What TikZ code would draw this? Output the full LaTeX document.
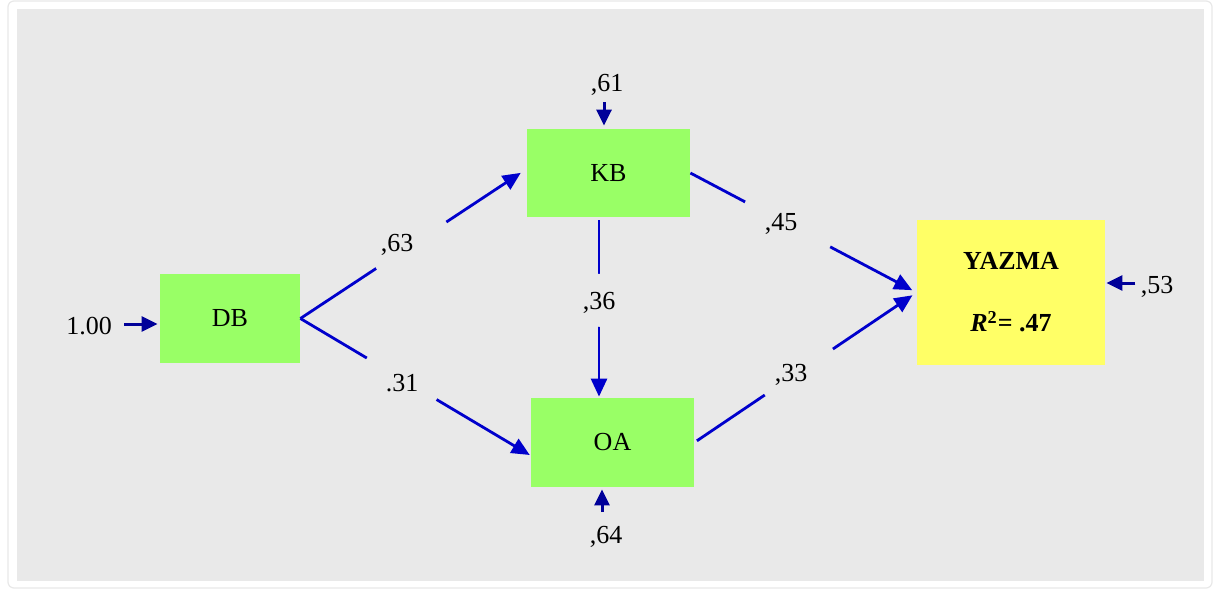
\documentclass[tikz,border=0pt]{standalone}
\usepackage{fontspec}
\setmainfont{Liberation Serif}
\usetikzlibrary{arrows.meta,calc}
\definecolor{bgpanel}{HTML}{E9E9E9}
\definecolor{boxgreen}{HTML}{99FF66}
\definecolor{boxyellow}{HTML}{FFFF66}
\definecolor{linkblue}{HTML}{0000CC}
\definecolor{errblue}{HTML}{000099}
\begin{document}
\begin{tikzpicture}[x=0.5pt,y=-0.5pt,
  every node/.style={font=\fontsize{13pt}{15.6pt}\selectfont, text=black},
  varbox/.style={fill=boxgreen, inner sep=0pt},
  endobox/.style={fill=boxyellow, inner sep=0pt, align=center, font=\fontsize{13pt}{15.6pt}\selectfont\bfseries},
  link/.style={draw=linkblue, line width=1.4pt, -{Triangle[length=9pt,width=8pt]}},
  errarrow/.style={draw=errblue, line width=1.5pt, -{Triangle[length=8pt,width=7.5pt]}},
  gapc/.style={circle, fill=bgpanel, inner sep=0pt},
  lbl/.style={inner sep=0pt}]
% frame and panel
\useasboundingbox (0,0) rectangle (1213,589);
\fill[white] (0,0) rectangle (1213,589);
\draw[black!9, line width=0.6pt, fill=white, rounded corners=3pt] (8,1) rectangle (1212,588);
\fill[bgpanel] (17,9) rectangle (1204,581);
% variables
\node[varbox, minimum width=70pt, minimum height=44.5pt] (DB) at (230,318.5) {DB};
\node[varbox, minimum width=81.5pt, minimum height=44pt] (KB) at (608.5,173) {KB};
\node[varbox, minimum width=81.5pt, minimum height=44.5pt] (OA) at (612.5,442.5) {OA};
\node[endobox, minimum width=94pt, minimum height=72.5pt] (YAZMA) at (1011,292.5)
  {YAZMA\\[15.4pt]\textit{R}\textsuperscript{2}= .47};
% paths with gaps for coefficients
\draw[link, shorten >=3.5pt] (DB.east) -- node[gapc, minimum size=42pt, pos=0.49]{} ($(KB.west)+(0,-4)$);
\draw[link, shorten >=0.5pt] (DB.east) -- node[gapc, minimum size=40.5pt, pos=0.44]{} ($(OA.west)+(0,13)$);
\draw[link, shorten >=2.5pt] (KB.east) -- node[gapc, minimum size=48pt, pos=0.43]{} (YAZMA.west);
\draw[link, shorten <=1.5pt, shorten >=2.5pt] (OA.east) -- node[gapc, minimum size=41pt, pos=0.47]{} (YAZMA.west);
\draw[link, shorten <=1.5pt, shorten >=0.5pt] ($(KB.south)+(-9.5,0)$) -- node[gapc, minimum size=26.5pt, pos=0.46]{} ($(OA.north)+(-13.5,0)$);
% coefficient labels
\node[lbl] (c63) at (397,245) {,63};
\node[lbl] (c31) at (402,383) {.31};
\node[lbl] (c45) at (781,224) {,45};
\node[lbl] (c33) at (791,375) {,33};
\node[lbl] (c36) at (599,303) {,36};
% error / input labels
\node[lbl] (l100) at (89,326) {1.00};
\node[lbl] (l61) at (607,85) {,61};
\node[lbl] (l64) at (606,537) {,64};
\node[lbl] (l53) at (1157,287) {,53};
\draw[errarrow, shorten <=6pt, shorten >=1pt] ([yshift=1pt]l100.east) -- ([yshift=1pt]l100.east -| DB.west);
\draw[errarrow, shorten <=3pt, shorten >=1.5pt] ([xshift=-1.5pt]l61.south) -- ([xshift=-1.5pt]l61.south |- KB.north);
\draw[errarrow, shorten <=7pt, shorten >=1pt] ([xshift=-2pt]l64.north) -- ([xshift=-2pt]l64.north |- OA.south);
\draw[errarrow, shorten <=2.5pt, shorten >=0.5pt] ([yshift=2pt]l53.west) -- ([yshift=2pt]l53.west -| YAZMA.east);
\end{tikzpicture}
\end{document}
